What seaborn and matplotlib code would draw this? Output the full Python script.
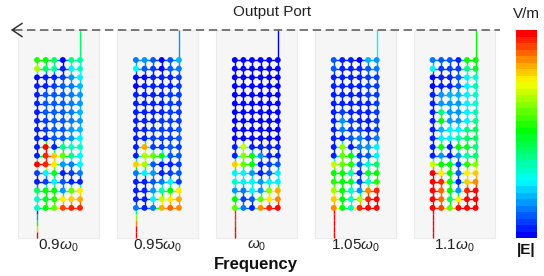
import numpy as np
import pandas as pd
import matplotlib
matplotlib.use("Agg")
import matplotlib.pyplot as plt
import seaborn as sns
from matplotlib.collections import LineCollection
from matplotlib.colors import ListedColormap, LinearSegmentedColormap, Normalize, FuncNorm
from matplotlib.cm import ScalarMappable
from matplotlib.patches import Rectangle

# ---------------- data (|E| normalised 0..1, rows top->bottom, 6 columns) ----
freq_labels = [r"0.9$\omega_0$", r"0.95$\omega_0$", r"$\omega_0$", r"1.05$\omega_0$", r"1.1$\omega_0$"]

panel_09 = [
    [0.52, 0.50, 0.45, 0.10, 0.42, 0.40],
    [0.60, 0.45, 0.40, 0.12, 0.35, 0.38],
    [0.10, 0.12, 0.15, 0.20, 0.30, 0.35],
    [0.12, 0.15, 0.18, 0.25, 0.28, 0.32],
    [0.12, 0.22, 0.25, 0.25, 0.28, 0.30],
    [0.12, 0.22, 0.25, 0.25, 0.28, 0.30],
    [0.12, 0.22, 0.25, 0.25, 0.28, 0.32],
    [0.12, 0.20, 0.22, 0.25, 0.28, 0.30],
    [0.12, 0.20, 0.22, 0.25, 0.30, 0.32],
    [0.12, 0.15, 0.22, 0.25, 0.30, 0.35],
    [0.12, 0.90, 0.15, 0.42, 0.38, 0.38],
    [0.12, 0.88, 0.70, 0.55, 0.42, 0.35],
    [0.92, 0.88, 0.65, 0.30, 0.28, 0.35],
    [0.20, 0.35, 0.48, 0.15, 0.18, 0.28],
    [0.12, 0.20, 0.35, 0.25, 0.15, 0.12],
    [0.45, 0.50, 0.50, 0.30, 0.55, 0.65],
    [0.38, 0.48, 0.52, 0.65, 0.68, 0.72],
    [0.38, 0.50, 0.55, 0.82, 0.85, 0.85],
]
panel_095 = [
    [0.28, 0.30, 0.25, 0.10, 0.25, 0.32],
    [0.35, 0.25, 0.20, 0.10, 0.25, 0.28],
    [0.10, 0.10, 0.12, 0.15, 0.15, 0.20],
    [0.10, 0.12, 0.12, 0.15, 0.15, 0.18],
    [0.12, 0.12, 0.15, 0.15, 0.18, 0.20],
    [0.12, 0.12, 0.15, 0.15, 0.18, 0.20],
    [0.12, 0.15, 0.15, 0.15, 0.18, 0.20],
    [0.12, 0.15, 0.15, 0.18, 0.18, 0.20],
    [0.12, 0.15, 0.18, 0.18, 0.20, 0.22],
    [0.12, 0.15, 0.18, 0.18, 0.20, 0.22],
    [0.15, 0.72, 0.18, 0.18, 0.25, 0.20],
    [0.15, 0.60, 0.55, 0.50, 0.25, 0.25],
    [0.70, 0.60, 0.25, 0.12, 0.15, 0.20],
    [0.28, 0.35, 0.30, 0.15, 0.18, 0.25],
    [0.15, 0.12, 0.25, 0.28, 0.35, 0.20],
    [0.12, 0.15, 0.30, 0.40, 0.50, 0.65],
    [0.12, 0.15, 0.35, 0.62, 0.65, 0.72],
    [0.28, 0.15, 0.28, 0.72, 0.78, 0.75],
]
panel_10 = [
    [0.10, 0.10, 0.10, 0.10, 0.10, 0.10],
    [0.10, 0.10, 0.10, 0.10, 0.10, 0.10],
    [0.10, 0.10, 0.10, 0.10, 0.10, 0.10],
    [0.10, 0.10, 0.10, 0.10, 0.10, 0.10],
    [0.10, 0.10, 0.10, 0.10, 0.10, 0.10],
    [0.10, 0.10, 0.10, 0.10, 0.10, 0.10],
    [0.10, 0.10, 0.10, 0.10, 0.10, 0.10],
    [0.10, 0.10, 0.10, 0.10, 0.10, 0.10],
    [0.10, 0.10, 0.10, 0.10, 0.10, 0.10],
    [0.10, 0.10, 0.10, 0.10, 0.10, 0.10],
    [0.12, 0.62, 0.12, 0.12, 0.12, 0.12],
    [0.15, 0.58, 0.50, 0.30, 0.15, 0.15],
    [0.70, 0.55, 0.50, 0.15, 0.18, 0.25],
    [0.35, 0.35, 0.30, 0.15, 0.25, 0.35],
    [0.38, 0.35, 0.35, 0.30, 0.35, 0.35],
    [0.30, 0.28, 0.35, 0.30, 0.58, 0.72],
    [0.50, 0.20, 0.25, 0.55, 0.65, 0.75],
    [0.55, 0.28, 0.15, 0.75, 0.88, 0.92],
]
panel_105 = [
    [0.25, 0.15, 0.12, 0.10, 0.32, 0.30],
    [0.22, 0.12, 0.12, 0.12, 0.25, 0.28],
    [0.12, 0.12, 0.12, 0.15, 0.20, 0.20],
    [0.12, 0.12, 0.12, 0.15, 0.18, 0.20],
    [0.12, 0.15, 0.15, 0.15, 0.18, 0.20],
    [0.12, 0.15, 0.15, 0.15, 0.15, 0.18],
    [0.12, 0.20, 0.15, 0.15, 0.15, 0.18],
    [0.12, 0.30, 0.18, 0.15, 0.15, 0.18],
    [0.12, 0.28, 0.20, 0.18, 0.12, 0.20],
    [0.12, 0.15, 0.25, 0.28, 0.20, 0.28],
    [0.12, 0.58, 0.12, 0.28, 0.30, 0.35],
    [0.12, 0.55, 0.50, 0.20, 0.25, 0.35],
    [0.62, 0.55, 0.52, 0.25, 0.38, 0.45],
    [0.50, 0.50, 0.40, 0.15, 0.48, 0.50],
    [0.52, 0.50, 0.48, 0.20, 0.38, 0.52],
    [0.60, 0.50, 0.38, 0.30, 0.75, 0.88],
    [0.70, 0.50, 0.38, 0.60, 0.88, 0.90],
    [0.75, 0.50, 0.40, 0.88, 0.90, 0.92],
]
panel_11 = [
    [0.28, 0.25, 0.22, 0.12, 0.50, 0.50],
    [0.35, 0.18, 0.18, 0.20, 0.42, 0.48],
    [0.10, 0.12, 0.15, 0.25, 0.35, 0.38],
    [0.10, 0.12, 0.15, 0.25, 0.35, 0.40],
    [0.12, 0.30, 0.32, 0.32, 0.35, 0.38],
    [0.12, 0.30, 0.30, 0.30, 0.35, 0.38],
    [0.12, 0.45, 0.30, 0.30, 0.35, 0.40],
    [0.12, 0.50, 0.30, 0.30, 0.35, 0.42],
    [0.15, 0.32, 0.35, 0.35, 0.42, 0.45],
    [0.15, 0.35, 0.35, 0.40, 0.45, 0.45],
    [0.15, 0.50, 0.15, 0.50, 0.48, 0.42],
    [0.15, 0.30, 0.15, 0.30, 0.40, 0.45],
    [0.62, 0.50, 0.50, 0.20, 0.52, 0.58],
    [0.90, 0.65, 0.50, 0.25, 0.65, 0.68],
    [0.90, 0.88, 0.50, 0.15, 0.70, 0.75],
    [0.92, 0.80, 0.50, 0.30, 0.88, 0.90],
    [0.92, 0.78, 0.45, 0.65, 0.90, 0.92],
    [0.95, 0.82, 0.55, 0.90, 0.92, 0.95],
]
panels = [panel_09, panel_095, panel_10, panel_105, panel_11]

output_port_vals = [0.45, 0.30, 0.08, 0.35, 0.50]
input_port_vals = [
    [0.12, 0.30, 0.50, 0.68, 0.92],
    [0.42, 0.58, 0.75, 0.90, 0.92],
    [0.85, 0.86, 0.88, 0.90, 0.90],
    [0.92, 0.92, 0.92, 0.92, 0.92],
    [0.92, 0.92, 0.92, 0.92, 0.92],
]

# field value -> position on the colour bar
value_anchor = [0.0, 0.10, 0.25, 0.30, 0.35, 0.50, 0.65, 0.78, 0.90, 1.0]
bar_anchor = [0.0, 0.02, 0.12, 0.17, 0.27, 0.52, 0.76, 0.88, 0.98, 1.0]

# ---------------- style ----------------------------------------------------
sns.set_theme(style="white")
plt.rcParams["font.family"] = ["Liberation Sans", "DejaVu Sans"]
plt.rcParams["mathtext.fontset"] = "custom"
plt.rcParams["mathtext.rm"] = "Liberation Sans"
plt.rcParams["mathtext.it"] = "Liberation Sans:italic"
plt.rcParams["mathtext.bf"] = "Liberation Sans:bold"

base = LinearSegmentedColormap.from_list(
    "rainbow_e",
    [(0.0, (0.0, 0.0, 1.0)), (0.27, (0.0, 1.0, 1.0)), (0.52, (0.0, 1.0, 0.0)),
     (0.76, (1.0, 1.0, 0.0)), (1.0, (1.0, 0.0, 0.0))])
cmap = ListedColormap(base(np.linspace(0, 1, 32)))
field_norm = FuncNorm((lambda v: np.interp(v, value_anchor, bar_anchor),
                       lambda p: np.interp(p, bar_anchor, value_anchor)), vmin=0, vmax=1)

W, H = 544, 276
fig = plt.figure(figsize=(W / 100, H / 100), dpi=100)
ax = fig.add_axes([0, 0, 1, 1])

px_x, px_y = 8.6, 8.7
x0_px, y0_px = 37, 60
panel_step = 11.5
n_rows, n_cols = 18, 6
top_y = (30 - y0_px) / px_y
bot_y = (238 - y0_px) / px_y

rows = []
for k, grid in enumerate(panels):
    off = k * panel_step
    ax.add_patch(Rectangle((off - 2.21, top_y), 9.42, bot_y - top_y,
                           facecolor="#f6f6f6", edgecolor="#ebebeb", lw=0.8, zorder=0))
    g = np.array(grid)
    segs, vals = [], []
    for r in range(n_rows):
        for c in range(n_cols):
            rows.append({"x": off + c, "y": r, "E": g[r, c]})
            if c < n_cols - 1:
                segs.append([(off + c, r), (off + c + 1, r)])
                vals.append((g[r, c] + g[r, c + 1]) / 2)
            if r < n_rows - 1:
                segs.append([(off + c, r), (off + c, r + 1)])
                vals.append((g[r, c] + g[r + 1, c]) / 2)
    segs.append([(off + n_cols - 1, 0), (off + n_cols - 1, top_y)])
    vals.append(output_port_vals[k])
    stops = input_port_vals[k]
    edges = np.linspace(n_rows - 1, bot_y, len(stops) + 1)
    for i, v in enumerate(stops):
        segs.append([(off, edges[i]), (off, edges[i + 1])])
        vals.append(v)
    lc = LineCollection(segs, colors=cmap(field_norm(np.array(vals))), linewidths=1.0, zorder=2)
    ax.add_collection(lc)
    ax.text(off + 2.5, (246 - y0_px) / px_y, freq_labels[k], ha="center", va="center",
            fontsize=11, color="#222222")

df = pd.DataFrame(rows)
sns.scatterplot(data=df, x="x", y="y", hue="E", palette=cmap, hue_norm=field_norm,
                s=18, linewidth=0, legend=False, ax=ax, zorder=3)
ax.set_xlim(-x0_px / px_x, (W - x0_px) / px_x)
ax.set_ylim((H - y0_px) / px_y, -y0_px / px_y)
ax.axis("off")

xl, xr = (14 - x0_px) / px_x, (500 - x0_px) / px_x
ax.plot([xl, xr], [top_y, top_y], color="#555555", lw=1.1, dashes=(5.5, 3.0), zorder=4)
ax.annotate("", xy=((8 - x0_px) / px_x, top_y), xytext=((17 - x0_px) / px_x, top_y),
            arrowprops=dict(arrowstyle="->,head_length=0.6,head_width=0.4",
                            color="#333333", lw=1.1), zorder=5)

ax.text((272 - x0_px) / px_x, (12 - y0_px) / px_y, "Output Port", ha="center", va="center",
        fontsize=11, color="#222222")
ax.text(2 * panel_step + 2.5, (264 - y0_px) / px_y, "Frequency", ha="center", va="center",
        fontsize=12, fontweight="bold", color="#111111")

cax = fig.add_axes([516 / W, 1 - 238 / H, 21 / W, 208 / H])
cb = fig.colorbar(ScalarMappable(norm=Normalize(0, 1), cmap=cmap), cax=cax)
cb.set_ticks([])
cb.outline.set_visible(False)
fig.text(526 / W, 1 - 14 / H, "V/m", ha="center", va="center", fontsize=11, color="#222222")
fig.text(526 / W, 1 - 250 / H, "|E|", ha="center", va="center", fontsize=11,
         fontweight="bold", color="#111111")

fig.savefig("out.png", dpi=100)
